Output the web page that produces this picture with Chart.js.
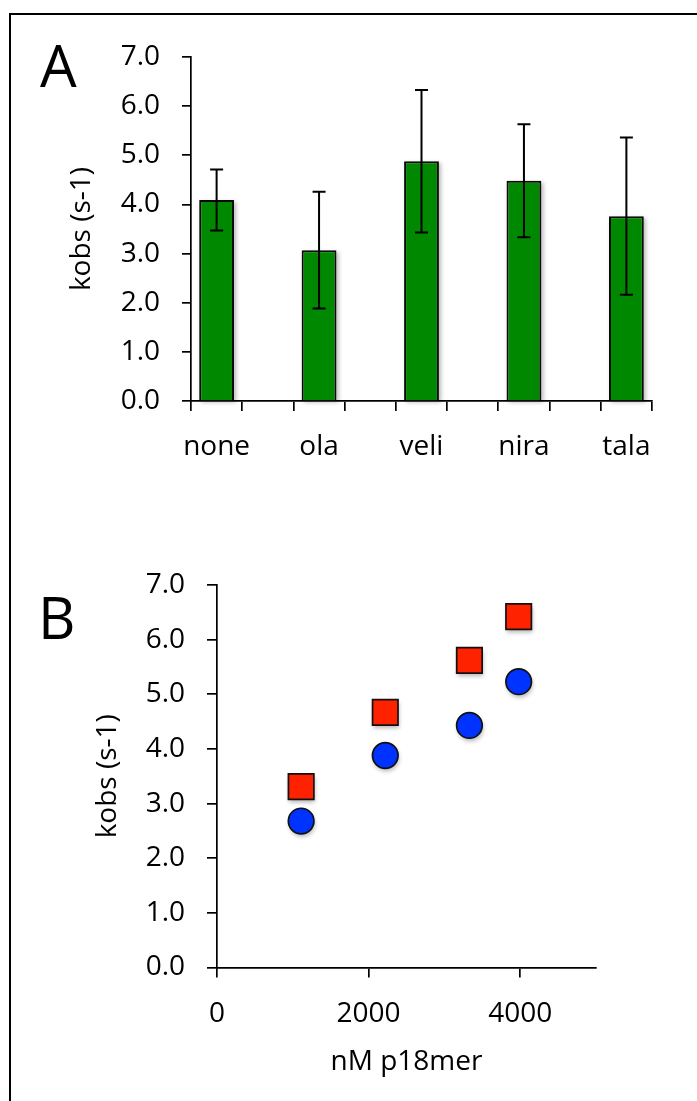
<!DOCTYPE html>
<html>
<head>
<meta charset="utf-8">
<script src="https://cdn.jsdelivr.net/npm/chart.js@4.4.1/dist/chart.umd.min.js"></script>
<style>
  body { margin: 0; background: #fff; }
  #page { position: relative; width: 697px; height: 1101px; overflow: hidden; font-family: "Open Sans", sans-serif; }
  .frame { position: absolute; left: 9px; top: 13px; right: -5px; bottom: -5px; border-left: 2px solid #000; border-top: 2px solid #000; }
  .panel { position: absolute; font-size: 58px; line-height: 1; color: #000; }
  canvas { position: absolute; left: 0; }
</style>
</head>
<body>
<div id="page">
  <div class="frame"></div>
  <canvas id="chartA" width="697" height="520" style="top:0"></canvas>
  <canvas id="chartB" width="697" height="581" style="top:520px"></canvas>
  <div class="panel" style="left:40px; top:36px">A</div>
  <div class="panel" style="left:38px; top:588px">B</div>
</div>
<script>
// Panel A data
const categories = ["none", "ola", "veli", "nira", "tala"];
const kobsMean = [4.09, 3.07, 4.88, 4.48, 3.76];
const kobsErr = [0.62, 1.19, 1.45, 1.15, 1.60];
const yTicks = [0, 1, 2, 3, 4, 5, 6, 7];

// Panel B data
const concB = [1110, 2220, 3330, 3980];
const kobsRed = [3.31, 4.67, 5.62, 6.42];
const kobsBlue = [2.68, 3.88, 4.43, 5.23];
const xTicksB = [0, 2000, 4000];

Chart.defaults.font.family = '"Open Sans", sans-serif';
Chart.defaults.font.size = 28;
Chart.defaults.color = "#000";

// excel-style axis: every category followed by an empty slot
const slotLabels = [], slotMean = [], slotErr = [];
categories.forEach((c, i) => {
  slotLabels.push(c); slotMean.push(kobsMean[i]); slotErr.push(kobsErr[i]);
  if (i < categories.length - 1) { slotLabels.push(""); slotMean.push(null); slotErr.push(null); }
});

// soft drop shadow under bars and markers
const softShadow = {
  id: "softShadow",
  beforeDatasetsDraw(chart) {
    const ctx = chart.ctx;
    ctx.save();
    ctx.filter = "blur(2px)";
    ctx.fillStyle = "rgba(0,0,0,0.28)";
    chart.data.datasets.forEach((ds, di) => {
      chart.getDatasetMeta(di).data.forEach(el => {
        if (isNaN(el.x) || isNaN(el.y)) return;
        if (el.base !== undefined && el.width !== undefined) {
          ctx.fillRect(el.x - el.width / 2 + 2, el.y + 2, el.width, el.base - el.y);
        } else {
          const r = el.options.radius;
          ctx.beginPath();
          if (el.options.pointStyle === "rect") {
            const s = r * Math.SQRT1_2;
            ctx.rect(el.x - s + 1, el.y - s + 3, 2 * s, 2 * s);
          } else {
            ctx.arc(el.x + 1, el.y + 3, r, 0, Math.PI * 2);
          }
          ctx.fill();
        }
      });
    });
    ctx.restore();
  }
};

// error bars for panel A
const errorBars = {
  id: "errorBars",
  afterDatasetsDraw(chart) {
    const ctx = chart.ctx;
    const y = chart.scales.y;
    const ds = chart.data.datasets[0];
    ctx.save();
    ctx.strokeStyle = "#000";
    ctx.lineWidth = 2;
    chart.getDatasetMeta(0).data.forEach((bar, i) => {
      const v = ds.data[i], e = slotErr[i];
      if (v == null) return;
      const yt = y.getPixelForValue(v + e), yb = y.getPixelForValue(v - e);
      ctx.beginPath();
      ctx.moveTo(bar.x, yt); ctx.lineTo(bar.x, yb);
      ctx.moveTo(bar.x - 6.5, yt); ctx.lineTo(bar.x + 6.5, yt);
      ctx.moveTo(bar.x - 6.5, yb); ctx.lineTo(bar.x + 6.5, yb);
      ctx.stroke();
    });
    ctx.restore();
  }
};

const axisGrid = { drawOnChartArea: false, drawTicks: true, color: "#000", lineWidth: 1.7 };

new Chart(document.getElementById("chartA"), {
  type: "bar",
  data: {
    labels: slotLabels,
    datasets: [{
      data: slotMean,
      backgroundColor: "#008800",
      borderColor: "#0a0a0a",
      borderWidth: 2,
      barPercentage: 0.68,
      categoryPercentage: 1
    }]
  },
  options: {
    responsive: false,
    animation: false,
    layout: { padding: { top: 57, right: 45, bottom: 0, left: 0 } },
    plugins: { legend: { display: false }, tooltip: { enabled: false } },
    scales: {
      x: {
        offset: true,
        grid: { ...axisGrid, offset: true, tickLength: 10 },
        border: { color: "#000", width: 1.7 },
        ticks: { autoSkip: false, maxRotation: 0, padding: 19 },
        afterFit: s => { s.height = 520 - 401; }
      },
      y: {
        min: 0, max: 7,
        afterBuildTicks: s => { s.ticks = yTicks.map(v => ({ value: v })); },
        afterFit: s => { s.width = 191; },
        grid: { ...axisGrid, tickLength: 9 },
        border: { color: "#000", width: 1.7 },
        ticks: { padding: 22, callback: v => v.toFixed(1) },
        title: { display: true, text: "kobs (s-1)", padding: { top: 65 } }
      }
    }
  },
  plugins: [softShadow, errorBars]
});

new Chart(document.getElementById("chartB"), {
  type: "scatter",
  data: {
    datasets: [
      {
        data: concB.map((x, i) => ({ x: x, y: kobsRed[i] })),
        pointStyle: "rect",
        pointRadius: 18,
        backgroundColor: "#ff2200",
        borderColor: "#111",
        borderWidth: 1.7
      },
      {
        data: concB.map((x, i) => ({ x: x, y: kobsBlue[i] })),
        pointStyle: "circle",
        pointRadius: 12.8,
        backgroundColor: "#0033ff",
        borderColor: "#111",
        borderWidth: 1.7
      }
    ]
  },
  options: {
    responsive: false,
    animation: false,
    layout: { padding: { top: 65, right: 101, bottom: 0, left: 0 } },
    plugins: { legend: { display: false }, tooltip: { enabled: false } },
    scales: {
      x: {
        type: "linear",
        min: 0, max: 5000,
        afterBuildTicks: s => { s.ticks = xTicksB.map(v => ({ value: v })); },
        afterFit: s => { s.height = 581 - 447.5; },
        grid: { ...axisGrid, tickLength: 10 },
        border: { color: "#000", width: 1.7 },
        ticks: { padding: 20, callback: v => String(v) },
        title: { display: true, text: "nM p18mer", padding: { bottom: 22 } }
      },
      y: {
        min: 0, max: 7,
        afterBuildTicks: s => { s.ticks = yTicks.map(v => ({ value: v })); },
        afterFit: s => { s.width = 217; },
        grid: { ...axisGrid, tickLength: 10 },
        border: { color: "#000", width: 1.7 },
        ticks: { padding: 22, callback: v => v.toFixed(1) },
        title: { display: true, text: "kobs (s-1)", padding: { top: 91 } }
      }
    }
  },
  plugins: [softShadow]
});
</script>
</body>
</html>
